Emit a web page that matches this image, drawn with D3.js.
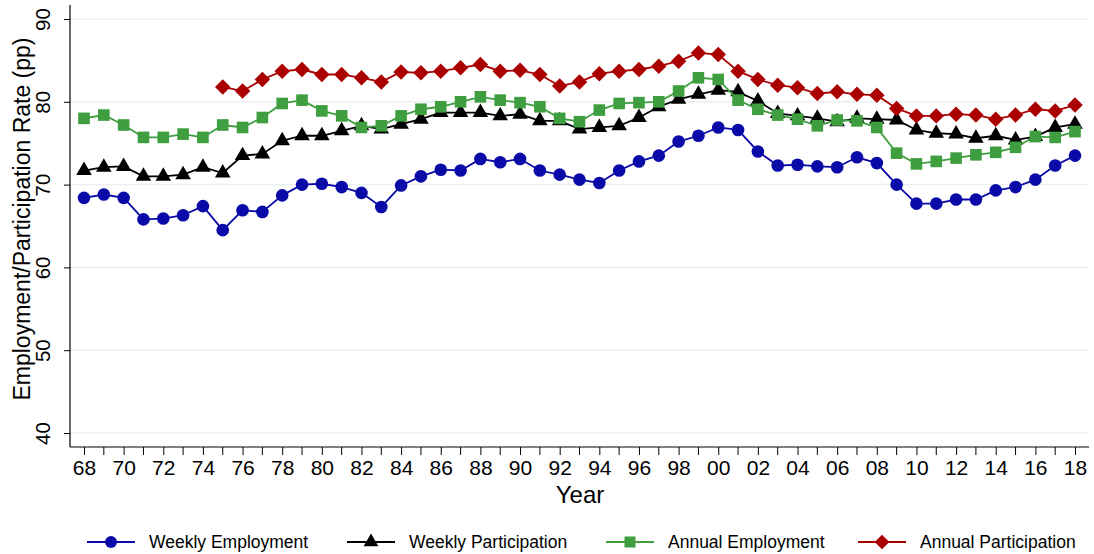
<!DOCTYPE html>
<html>
<head>
<meta charset="utf-8">
<script src="https://cdn.jsdelivr.net/npm/d3@7"></script>
<style>
  html, body { margin: 0; padding: 0; background: #fff; }
  svg { display: block; font-family: "Liberation Sans", Arial, sans-serif; }
</style>
</head>
<body>
<svg id="chart" width="1094" height="554"></svg>
<script>
const years = d3.range(1968, 2019);
const yTicks = [40, 50, 60, 70, 80, 90];

const weeklyEmployment = [68.4, 68.8, 68.4, 65.8, 65.9, 66.3, 67.4, 64.5, 66.9, 66.7,
  68.7, 70.0, 70.1, 69.7, 69.0, 67.3, 69.9, 71.0, 71.8, 71.7,
  73.1, 72.7, 73.1, 71.7, 71.2, 70.6, 70.2, 71.7, 72.8, 73.5,
  75.2, 75.9, 76.9, 76.6, 74.0, 72.3, 72.4, 72.2, 72.1, 73.3,
  72.6, 70.0, 67.7, 67.7, 68.2, 68.2, 69.3, 69.7, 70.6, 72.3, 73.5];
const weeklyParticipation = [71.7, 72.1, 72.2, 71.0, 71.0, 71.2, 72.1, 71.4, 73.5, 73.7,
  75.3, 75.9, 75.9, 76.5, 77.1, 76.7, 77.3, 77.9, 78.7, 78.7,
  78.7, 78.3, 78.5, 77.7, 77.7, 76.7, 76.9, 77.1, 78.1, 79.4,
  80.3, 80.9, 81.4, 81.2, 80.1, 78.6, 78.3, 78.0, 77.6, 78.0,
  77.9, 77.8, 76.6, 76.2, 76.1, 75.6, 75.9, 75.4, 75.8, 76.9, 77.3];
const annualEmployment = [78.0, 78.4, 77.2, 75.7, 75.7, 76.1, 75.7, 77.2, 76.9, 78.1,
  79.8, 80.2, 78.9, 78.3, 76.9, 77.1, 78.3, 79.1, 79.4, 80.0,
  80.6, 80.2, 79.9, 79.4, 78.0, 77.6, 79.0, 79.8, 79.9, 80.0,
  81.3, 82.9, 82.7, 80.2, 79.1, 78.4, 77.9, 77.1, 77.8, 77.7,
  76.9, 73.8, 72.5, 72.8, 73.2, 73.6, 73.9, 74.5, 75.8, 75.7, 76.4];
const annualParticipation = [null, null, null, null, null, null, null, 81.8, 81.3, 82.7,
  83.7, 83.9, 83.3, 83.3, 82.9, 82.4, 83.6, 83.5, 83.7, 84.1,
  84.5, 83.7, 83.8, 83.3, 81.9, 82.4, 83.4, 83.7, 83.9, 84.3,
  84.9, 85.9, 85.7, 83.7, 82.7, 82.0, 81.7, 81.0, 81.2, 80.9,
  80.8, 79.2, 78.3, 78.3, 78.5, 78.4, 77.9, 78.4, 79.1, 78.9, 79.6];

const seriesNames = ["Weekly Employment", "Weekly Participation", "Annual Employment", "Annual Participation"];
const seriesValues = [weeklyEmployment, weeklyParticipation, annualEmployment, annualParticipation];
const seriesColors = ["#0a0aa8", "#000000", "#3f9e3f", "#aa0000"];
const seriesSymbols = [d3.symbolCircle, d3.symbolTriangle, d3.symbolSquare, d3.symbolSquare];
const symbolSizes = [125, 105, 135, 120];
const symbolRotate = [0, 0, 0, 45];

const svg = d3.select("#chart");
const pLeft = 70, pRight = 1089, pTop = 5, pBottom = 447;

const x = d3.scaleLinear().domain([1968, 2018]).range([84, 1075]);
const y = d3.scaleLinear().domain([40, 90]).range([433, 19]);

// gridlines
svg.append("g").selectAll("line").data(yTicks).join("line")
  .attr("x1", pLeft).attr("x2", pRight)
  .attr("y1", d => y(d)).attr("y2", d => y(d))
  .attr("stroke", "#eaf0f2").attr("stroke-width", 1.5);

// y axis
const yAxis = svg.append("g").attr("transform", `translate(${pLeft},0)`)
  .call(d3.axisLeft(y).tickValues(yTicks).tickSize(6).tickPadding(8));
yAxis.select(".domain").remove();
yAxis.selectAll(".tick line").attr("stroke", "#000");
yAxis.selectAll(".tick text")
  .attr("font-size", 20.5).attr("fill", "#000")
  .attr("text-anchor", "middle")
  .attr("x", 0).attr("y", 0).attr("dy", "0.35em")
  .attr("transform", "translate(-27,0) rotate(-90)");

svg.append("line").attr("x1", pLeft).attr("x2", pLeft).attr("y1", pTop).attr("y2", pBottom)
  .attr("stroke", "#000").attr("stroke-width", 1.2);

// x axis
const xAxis = svg.append("g").attr("transform", `translate(0,${pBottom})`)
  .call(d3.axisBottom(x).tickValues(years.filter(d => d % 2 === 0))
    .tickFormat(d => String(d % 100).padStart(2, "0")).tickSize(8).tickPadding(5));
xAxis.select(".domain").remove();
xAxis.selectAll(".tick line").attr("stroke", "#000");
xAxis.selectAll(".tick text").attr("font-size", 21).attr("fill", "#000");
svg.append("g").attr("transform", `translate(0,${pBottom})`)
  .selectAll("line").data(years.filter(d => d % 2 === 1)).join("line")
  .attr("x1", d => x(d)).attr("x2", d => x(d)).attr("y1", 0).attr("y2", 8)
  .attr("stroke", "#000");
svg.append("line").attr("x1", pLeft).attr("x2", pRight).attr("y1", pBottom).attr("y2", pBottom)
  .attr("stroke", "#000").attr("stroke-width", 1.2);

// titles
svg.append("text").attr("x", 580).attr("y", 503).attr("text-anchor", "middle")
  .attr("font-size", 24).text("Year");
svg.append("text").attr("transform", "translate(30,219) rotate(-90)")
  .attr("text-anchor", "middle").attr("font-size", 23)
  .text("Employment/Participation Rate (pp)");

// series
const line = d3.line().defined(d => d.v != null).x(d => x(d.year)).y(d => y(d.v));
seriesValues.forEach((vals, i) => {
  const data = years.map((yr, j) => ({ year: yr, v: vals[j] }));
  const g = svg.append("g");
  g.append("path").datum(data).attr("d", line)
    .attr("fill", "none").attr("stroke", seriesColors[i]).attr("stroke-width", 1.8);
  g.selectAll("path.m").data(data.filter(d => d.v != null)).join("path")
    .attr("class", "m")
    .attr("d", d3.symbol().type(seriesSymbols[i]).size(symbolSizes[i]))
    .attr("transform", d => `translate(${x(d.year)},${y(d.v)}) rotate(${symbolRotate[i]})`)
    .attr("fill", seriesColors[i]);
});

// legend
const legendX = [87, 347, 606, 858];
seriesNames.forEach((name, i) => {
  const g = svg.append("g").attr("transform", `translate(${legendX[i]},542)`);
  g.append("line").attr("x1", 0).attr("x2", 48).attr("y1", 0).attr("y2", 0)
    .attr("stroke", seriesColors[i]).attr("stroke-width", 1.8);
  g.append("path").attr("d", d3.symbol().type(seriesSymbols[i]).size(symbolSizes[i] * 0.9))
    .attr("transform", `translate(24,0) rotate(${symbolRotate[i]})`).attr("fill", seriesColors[i]);
  g.append("text").attr("x", 62).attr("y", 0).attr("dy", "0.35em")
    .attr("font-size", 17.5).text(name);
});
</script>
</body>
</html>
